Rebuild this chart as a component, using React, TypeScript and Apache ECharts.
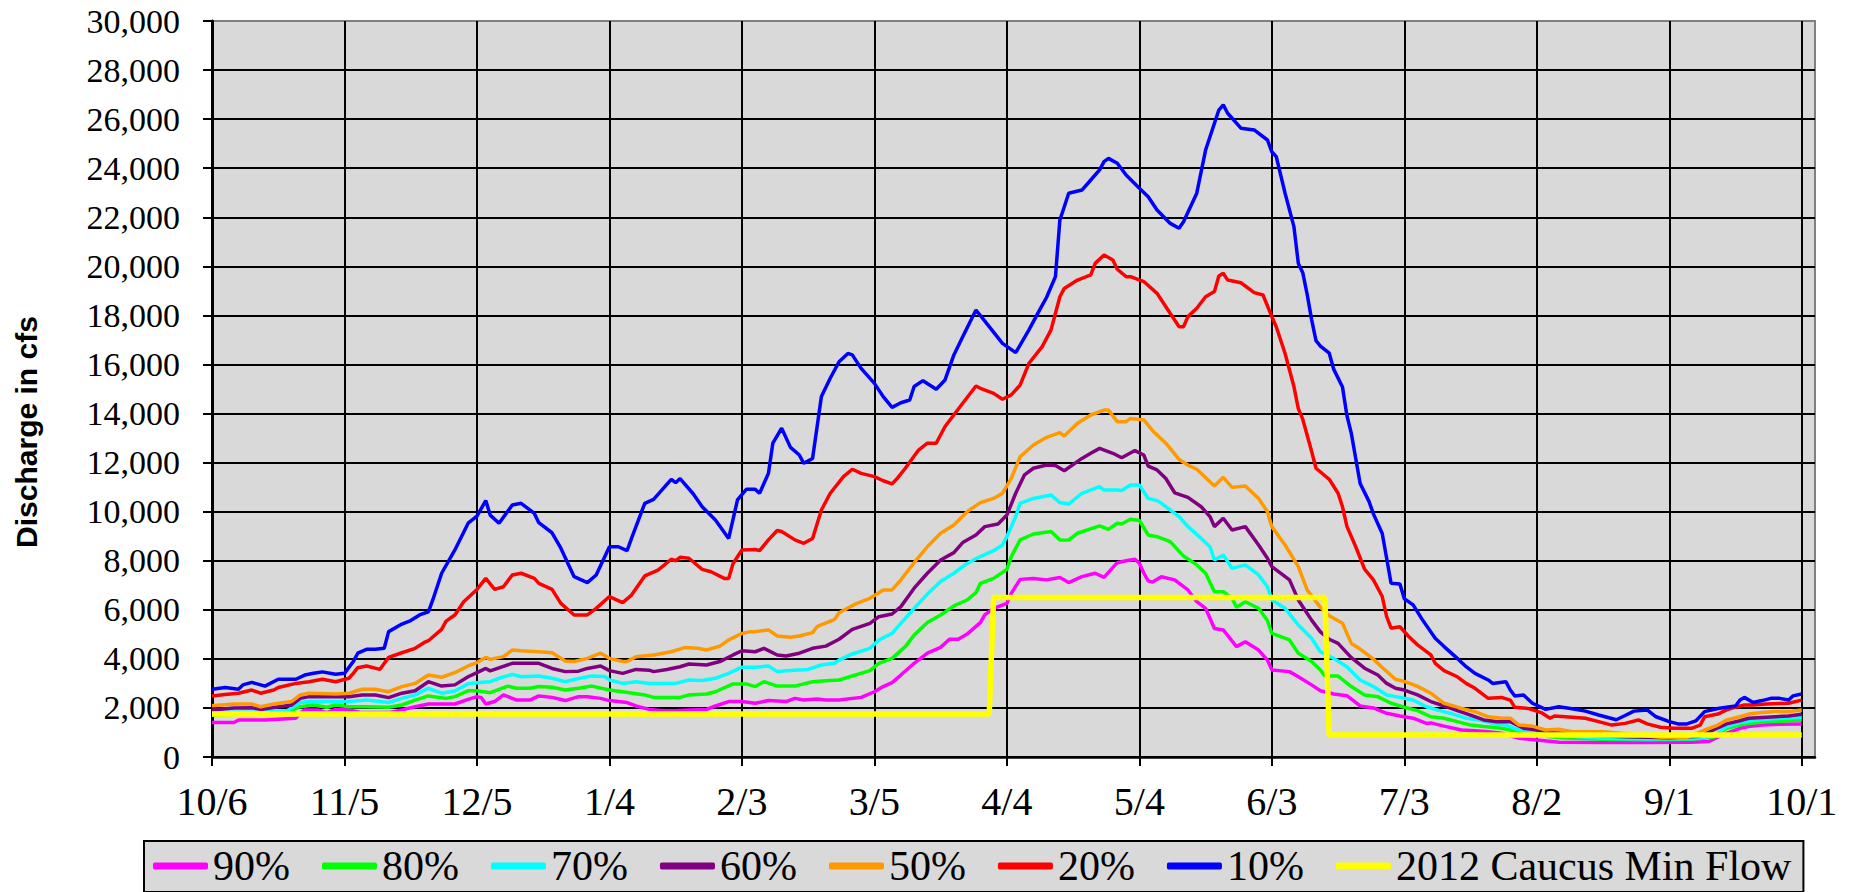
import React, { useEffect, useRef } from "react";
import * as echarts from "echarts";

// Day 0 = 10/6; tick labels every 30 days.
const xTickLabels = ["10/6", "11/5", "12/5", "1/4", "2/3", "3/5", "4/4", "5/4", "6/3", "7/3", "8/2", "9/1", "10/1"];
const tickDays = xTickLabels.map((_, i) => i * 30);
const lastDay = 363;

const seriesNames = ["90%", "80%", "70%", "60%", "50%", "20%", "10%", "2012 Caucus Min Flow"];
const seriesColors = ["#ff00ff", "#00ff00", "#00ffff", "#800080", "#ff9900", "#ff0000", "#0000ff", "#ffff00"];

// Exceedance discharge traces, [day, cfs]
const p90: [number, number][] = [
  [0, 1410], [5, 1410], [6, 1510], [12, 1510], [19, 1580], [20, 1800], [21, 1920], [24, 1920], [26, 1810], [28, 1940],
  [31, 1920], [34, 1810], [37, 1810], [40, 1810], [43, 1920], [46, 2050], [49, 2160], [53, 2160], [55, 2160], [58, 2350],
  [60, 2460], [61, 2420], [62, 2160], [64, 2260], [66, 2530], [68, 2390], [69, 2320], [72, 2320], [74, 2490], [77, 2430],
  [80, 2300], [83, 2460], [85, 2460], [88, 2390], [90, 2300], [94, 2220], [96, 2080], [99, 1940], [102, 1890], [105, 1890],
  [108, 1920], [112, 1940], [114, 2080], [117, 2260], [120, 2260], [123, 2190], [126, 2300], [130, 2260], [132, 2390], [134, 2320],
  [137, 2360], [139, 2320], [142, 2320], [147, 2430], [150, 2660], [152, 2870], [154, 3030], [156, 3340], [159, 3820], [162, 4230],
  [165, 4470], [167, 4800], [169, 4800], [171, 5010], [174, 5480], [175, 5790], [177, 6060], [180, 6260], [181, 6670], [183, 7240],
  [186, 7280], [189, 7220], [192, 7320], [194, 7110], [197, 7350], [200, 7490], [202, 7320], [205, 7920], [207, 8000], [209, 8060],
  [210, 7900], [211, 7500], [212, 7180], [213, 7130], [215, 7350], [218, 7220], [221, 6810], [223, 6330], [225, 6060], [227, 5240],
  [229, 5180], [232, 4500], [234, 4700], [237, 4360], [239, 3950], [240, 3550], [244, 3480], [246, 3270], [249, 2940], [251, 2700],
  [254, 2570], [257, 2500], [260, 2080], [263, 2000], [266, 1780], [269, 1670], [272, 1580], [275, 1370], [276, 1390], [279, 1260],
  [283, 1100], [286, 1070], [289, 1030], [292, 970], [296, 760], [300, 690], [305, 600], [315, 590], [325, 590], [335, 600],
  [339, 630], [342, 900], [346, 1170], [348, 1240], [351, 1300], [355, 1330], [360, 1350],
];

const p80: [number, number][] = [
  [0, 1700], [8, 1750], [15, 1800], [18, 1900], [20, 2050], [23, 2120], [26, 2030], [28, 2120], [31, 2050], [35, 2050],
  [40, 2030], [43, 2120], [46, 2320], [49, 2490], [53, 2390], [55, 2460], [58, 2700], [60, 2700], [63, 2620], [65, 2760],
  [67, 2890], [69, 2800], [72, 2800], [74, 2870], [77, 2840], [80, 2730], [83, 2800], [86, 2890], [90, 2730], [93, 2660],
  [98, 2530], [100, 2430], [106, 2430], [108, 2530], [112, 2570], [114, 2660], [118, 2980], [121, 2980], [123, 2870], [125, 3070],
  [128, 2890], [132, 2890], [134, 2980], [136, 3070], [139, 3110], [142, 3140], [145, 3300], [149, 3520], [151, 3820], [154, 4020],
  [157, 4500], [159, 4970], [162, 5480], [165, 5790], [168, 6160], [171, 6400], [173, 6700], [174, 7080], [177, 7280], [180, 7650],
  [181, 8170], [183, 8850], [186, 9090], [190, 9190], [192, 8850], [194, 8840], [196, 9120], [201, 9420], [203, 9280], [205, 9530],
  [206, 9500], [208, 9690], [210, 9640], [212, 9050], [214, 8980], [217, 8780], [220, 8190], [223, 7830], [225, 7490], [227, 6740],
  [229, 6740], [231, 6470], [232, 6100], [234, 6330], [237, 6060], [239, 5560], [240, 5040], [244, 4770], [246, 4230], [249, 3890],
  [251, 3550], [252, 3300], [255, 3300], [258, 2870], [261, 2530], [264, 2460], [267, 2190], [270, 2030], [273, 1890], [276, 1640],
  [279, 1580], [282, 1440], [285, 1300], [288, 1240], [292, 1170], [295, 1070], [298, 940], [305, 780], [315, 720], [325, 700],
  [335, 720], [340, 800], [343, 1170], [346, 1300], [348, 1370], [352, 1440], [356, 1470], [360, 1510],
];

const p70: [number, number][] = [
  [0, 1820], [9, 1820], [17, 1890], [20, 2220], [22, 2260], [28, 2260], [31, 2260], [35, 2320], [40, 2220], [43, 2390],
  [46, 2530], [49, 2800], [52, 2600], [55, 2690], [58, 2980], [60, 3030], [63, 3070], [65, 3210], [68, 3370], [70, 3270],
  [74, 3300], [77, 3210], [80, 3070], [83, 3200], [86, 3300], [89, 3280], [90, 3140], [93, 3000], [96, 3070], [99, 3000],
  [105, 3000], [108, 3140], [111, 3120], [114, 3210], [117, 3410], [120, 3660], [123, 3660], [126, 3710], [128, 3480], [130, 3520],
  [135, 3570], [138, 3750], [141, 3820], [142, 3950], [145, 4200], [149, 4430], [151, 4770], [154, 5040], [156, 5450], [159, 6060],
  [162, 6640], [165, 7150], [168, 7490], [171, 7890], [174, 8170], [177, 8410], [179, 8640], [180, 8980], [182, 9800], [183, 10340],
  [186, 10540], [190, 10680], [192, 10370], [194, 10310], [197, 10750], [201, 11020], [202, 10880], [205, 10880], [206, 10860], [208, 11090],
  [210, 11090], [212, 10540], [214, 10450], [215, 10340], [219, 9800], [221, 9390], [224, 8910], [226, 8570], [227, 8030], [229, 8230],
  [231, 7690], [234, 7830], [237, 7420], [239, 6940], [240, 6400], [243, 6060], [246, 5380], [249, 4840], [251, 4290], [254, 4020],
  [257, 3680], [260, 3140], [263, 2870], [266, 2530], [269, 2430], [272, 2320], [275, 2050], [278, 1890], [281, 1750], [284, 1580],
  [287, 1510], [290, 1370], [293, 1300], [296, 1100], [299, 990], [305, 880], [315, 760], [325, 730], [335, 740], [340, 850],
  [343, 1240], [346, 1400], [348, 1470], [352, 1540], [356, 1580], [360, 1620],
];

const p60: [number, number][] = [
  [0, 1920], [5, 2000], [9, 2010], [11, 1940], [14, 2020], [18, 2120], [20, 2390], [22, 2460], [28, 2460], [31, 2460],
  [34, 2530], [37, 2530], [40, 2420], [43, 2600], [46, 2700], [49, 3070], [52, 2890], [55, 2940], [58, 3270], [60, 3440],
  [62, 3610], [63, 3510], [68, 3820], [70, 3820], [74, 3820], [77, 3610], [80, 3480], [83, 3500], [85, 3610], [88, 3710],
  [90, 3520], [93, 3410], [96, 3570], [99, 3540], [100, 3480], [103, 3570], [106, 3680], [108, 3790], [112, 3750], [115, 3890],
  [118, 4160], [120, 4330], [123, 4290], [125, 4430], [128, 4160], [130, 4120], [133, 4230], [136, 4430], [139, 4520], [142, 4800],
  [145, 5200], [149, 5450], [151, 5720], [154, 5830], [156, 6130], [159, 6880], [162, 7490], [165, 8030], [168, 8330], [170, 8740],
  [173, 9050], [175, 9390], [178, 9500], [180, 9860], [182, 10750], [184, 11500], [186, 11770], [189, 11900], [191, 11880], [193, 11670],
  [197, 12170], [199, 12380], [201, 12580], [204, 12380], [206, 12200], [209, 12490], [211, 12310], [212, 11860], [214, 11700], [216, 11350],
  [218, 10770], [221, 10580], [224, 10200], [226, 9800], [227, 9390], [229, 9730], [231, 9250], [234, 9390], [237, 8640], [239, 8100],
  [240, 7760], [244, 7220], [246, 6400], [249, 5580], [251, 5100], [253, 4800], [255, 4630], [258, 4050], [261, 3620], [264, 3340],
  [266, 3000], [268, 2800], [270, 2730], [273, 2530], [276, 2260], [279, 2080], [282, 1890], [285, 1710], [288, 1510], [291, 1440],
  [294, 1440], [297, 1170], [300, 1100], [304, 990], [310, 900], [320, 830], [330, 780], [337, 850], [340, 1100], [343, 1350],
  [346, 1480], [348, 1580], [352, 1620], [357, 1670], [360, 1740],
];

const p50: [number, number][] = [
  [0, 2090], [5, 2160], [9, 2160], [11, 2050], [14, 2160], [18, 2260], [20, 2530], [22, 2600], [28, 2570], [31, 2600],
  [34, 2760], [37, 2760], [40, 2660], [43, 2870], [46, 3000], [49, 3340], [52, 3250], [55, 3440], [58, 3710], [60, 3850],
  [62, 4060], [63, 3980], [66, 4090], [68, 4360], [70, 4330], [74, 4290], [77, 4250], [80, 3910], [82, 3890], [85, 4020],
  [88, 4230], [90, 4020], [93, 3890], [94, 3890], [96, 4090], [100, 4160], [104, 4290], [107, 4460], [110, 4430], [112, 4360],
  [115, 4520], [117, 4770], [120, 5040], [122, 5110], [123, 5110], [126, 5180], [128, 4930], [131, 4880], [133, 4930], [136, 5070],
  [137, 5310], [141, 5610], [142, 5880], [146, 6260], [149, 6470], [152, 6810], [154, 6810], [156, 7220], [159, 7920], [162, 8570],
  [165, 9120], [168, 9460], [171, 10000], [174, 10370], [177, 10540], [179, 10750], [181, 11360], [183, 12240], [186, 12720], [189, 13030],
  [192, 13220], [193, 13080], [196, 13600], [199, 13940], [202, 14140], [203, 14140], [205, 13670], [207, 13670], [208, 13800], [211, 13740],
  [213, 13300], [216, 12790], [219, 12130], [221, 11900], [223, 11730], [227, 11050], [229, 11400], [231, 10990], [234, 11050], [237, 10540],
  [239, 10000], [240, 9390], [243, 8640], [246, 7760], [248, 6810], [251, 6100], [253, 5760], [256, 5450], [258, 4630], [260, 4400],
  [263, 3990], [265, 3650], [268, 3170], [270, 3080], [273, 2880], [276, 2600], [279, 2190], [283, 1980], [286, 1850], [289, 1640],
  [292, 1580], [294, 1580], [296, 1300], [299, 1260], [302, 1100], [305, 1130], [308, 1030], [315, 1030], [321, 940], [328, 800],
  [334, 800], [338, 1100], [341, 1300], [343, 1510], [346, 1640], [348, 1750], [351, 1810], [354, 1850], [357, 1850], [360, 1920],
];

const p20: [number, number][] = [
  [0, 2490], [3, 2550], [6, 2600], [9, 2730], [11, 2600], [14, 2730], [15, 2830], [19, 3000], [22, 3070], [25, 3170],
  [28, 3070], [31, 3210], [32, 3410], [33, 3640], [35, 3710], [38, 3570], [40, 4060], [43, 4250], [46, 4430], [48, 4660],
  [49, 4740], [52, 5200], [53, 5540], [55, 5790], [57, 6330], [60, 6830], [62, 7280], [64, 6830], [66, 6940], [68, 7420],
  [70, 7490], [73, 7280], [74, 7080], [77, 6830], [79, 6260], [82, 5790], [85, 5790], [87, 6060], [90, 6540], [93, 6290],
  [95, 6600], [98, 7380], [101, 7620], [104, 8060], [105, 8000], [106, 8140], [108, 8100], [111, 7650], [113, 7550], [116, 7280],
  [117, 7280], [118, 7890], [120, 8440], [123, 8460], [124, 8410], [126, 8850], [128, 9230], [129, 9190], [132, 8850], [134, 8710],
  [136, 8910], [138, 10070], [140, 10750], [143, 11430], [145, 11730], [147, 11560], [150, 11430], [152, 11260], [154, 11130], [155, 11320],
  [157, 11770], [160, 12510], [162, 12790], [164, 12790], [166, 13470], [170, 14420], [173, 15120], [174, 15030], [177, 14820], [179, 14580],
  [181, 14760], [183, 15160], [185, 16050], [188, 16730], [190, 17410], [192, 18760], [193, 19100], [196, 19440], [199, 19650], [200, 20120],
  [202, 20460], [204, 20260], [205, 19880], [207, 19580], [208, 19580], [211, 19380], [214, 18900], [217, 18080], [219, 17540], [220, 17540],
  [221, 17950], [223, 18290], [225, 18760], [227, 18970], [228, 19610], [229, 19720], [230, 19440], [233, 19330], [236, 18930], [238, 18830],
  [240, 17950], [241, 17540], [243, 16450], [245, 15100], [246, 14200], [247, 13770], [249, 12460], [250, 11770], [253, 11320], [255, 10750],
  [256, 10200], [257, 9400], [259, 8570], [261, 7660], [263, 7220], [265, 6540], [266, 5720], [267, 5250], [269, 5310], [271, 4910],
  [273, 4570], [276, 4160], [277, 3820], [279, 3520], [282, 3270], [284, 3000], [286, 2800], [289, 2390], [292, 2430], [294, 2320],
  [295, 2030], [298, 1980], [301, 1810], [303, 1580], [304, 1670], [308, 1620], [311, 1580], [314, 1440], [317, 1300], [320, 1370],
  [323, 1510], [325, 1350], [328, 1210], [331, 1170], [335, 1170], [337, 1300], [338, 1640], [341, 1750], [343, 1920], [345, 2030],
  [347, 2120], [349, 2120], [352, 2160], [357, 2190], [360, 2320],
];

const p10: [number, number][] = [
  [0, 2760], [3, 2830], [6, 2760], [7, 2940], [9, 3040], [12, 2890], [15, 3170], [19, 3170], [21, 3340], [23, 3410],
  [25, 3470], [28, 3370], [30, 3410], [32, 3890], [33, 4230], [35, 4390], [37, 4390], [39, 4430], [40, 5110], [43, 5420],
  [45, 5560], [47, 5790], [49, 5920], [50, 6400], [52, 7490], [55, 8440], [58, 9530], [60, 9820], [62, 10450], [63, 9860],
  [65, 9530], [68, 10270], [70, 10340], [73, 9930], [74, 9550], [77, 9140], [79, 8510], [82, 7350], [85, 7110], [87, 7420],
  [90, 8570], [92, 8570], [94, 8410], [95, 8910], [98, 10340], [100, 10500], [104, 11320], [105, 11180], [106, 11350], [109, 10720],
  [111, 10200], [114, 9660], [117, 8910], [119, 10480], [121, 10910], [123, 10910], [124, 10750], [126, 11560], [127, 12790], [129, 13400],
  [131, 12620], [133, 12310], [134, 11970], [136, 12170], [138, 14690], [140, 15440], [142, 16110], [144, 16450], [145, 16390], [147, 15840],
  [150, 15230], [152, 14690], [154, 14250], [156, 14440], [158, 14550], [159, 15100], [161, 15340], [164, 14990], [166, 15370], [168, 16390],
  [170, 17130], [173, 18220], [176, 17540], [179, 16860], [182, 16480], [185, 17410], [187, 18080], [189, 18740], [191, 19580], [192, 21890],
  [193, 22430], [194, 22980], [197, 23110], [199, 23520], [201, 23930], [202, 24270], [203, 24400], [205, 24200], [207, 23720], [210, 23180],
  [212, 22840], [214, 22300], [217, 21750], [219, 21550], [220, 21820], [223, 22980], [225, 24740], [228, 26370], [229, 26580], [230, 26240],
  [233, 25630], [236, 25560], [239, 25150], [240, 24670], [241, 24470], [243, 22980], [245, 21620], [246, 20120], [247, 19740], [248, 18860],
  [249, 17840], [250, 16970], [251, 16750], [253, 16460], [254, 15810], [256, 15080], [257, 13920], [258, 13190], [259, 12170], [260, 11150],
  [262, 10420], [263, 9910], [265, 9110], [266, 8100], [267, 7080], [269, 7050], [270, 6450], [272, 6200], [274, 5620], [277, 4840],
  [279, 4500], [282, 4020], [284, 3680], [286, 3410], [289, 3140], [290, 3000], [293, 3070], [294, 2730], [295, 2490], [297, 2530],
  [299, 2190], [302, 1940], [305, 2050], [308, 1970], [311, 1870], [314, 1710], [318, 1520], [320, 1690], [322, 1870], [325, 1920],
  [327, 1640], [330, 1440], [332, 1350], [334, 1350], [336, 1470], [338, 1850], [341, 1980], [343, 2030], [345, 2080], [346, 2320],
  [347, 2430], [349, 2220], [351, 2300], [353, 2390], [355, 2390], [357, 2320], [358, 2490], [360, 2570],
];

// Stepped minimum flow schedule
const minFlow: [number, number][] = [
  [0, 1750], [176, 1750], [177, 6500], [252, 6500], [253, 900], [360, 900],
];

const seriesData = [p90, p80, p70, p60, p50, p20, p10, minFlow];

const serif = "'Liberation Serif', 'Times New Roman', serif";
const sans = "'Liberation Sans', Arial, sans-serif";

export default function App() {
  const ref = useRef<HTMLDivElement>(null);

  useEffect(() => {
    if (!ref.current) return;
    const chart = echarts.init(ref.current, undefined, { renderer: "svg" });

    // Top gridline doubles as the plot's grey frame
    const yLineColors = Array.from({ length: 16 }, (_, i) => (i === 15 ? "#808080" : "#000000"));

    const option = {
      animation: false,
      backgroundColor: "#ffffff",
      grid: {
        left: 212,
        right: 37,
        top: 21,
        bottom: 135,
        show: true,
        backgroundColor: "#d9d9d9",
        borderColor: "#808080",
        borderWidth: 2,
      },
      xAxis: {
        type: "value",
        min: 0,
        max: lastDay,
        interval: 30,
        axisLine: { show: true, onZero: false, lineStyle: { color: "#000000", width: 2.5 } },
        axisTick: {
          show: true,
          inside: false,
          length: 9,
          customValues: tickDays,
          lineStyle: { color: "#000000", width: 2 },
        },
        axisLabel: {
          customValues: tickDays,
          formatter: (v: number) => xTickLabels[Math.round(v / 30)] ?? "",
          fontFamily: serif,
          fontSize: 40,
          color: "#000000",
          margin: 24,
        },
        splitLine: { show: true, lineStyle: { color: "#000000", width: 2 } },
      },
      yAxis: {
        type: "value",
        min: 0,
        max: 30000,
        interval: 2000,
        axisLine: { show: true, lineStyle: { color: "#000000", width: 3 } },
        axisTick: { show: true, inside: false, length: 9, lineStyle: { color: "#000000", width: 2 } },
        axisLabel: {
          formatter: (v: number) => v.toLocaleString("en-US"),
          fontFamily: serif,
          fontSize: 34,
          color: "#000000",
          margin: 32,
        },
        splitLine: { show: true, lineStyle: { color: yLineColors, width: 2 } },
      },
      legend: {
        show: true,
        data: seriesNames,
        left: 144,
        top: 841,
        orient: "horizontal",
        icon: "roundRect",
        itemWidth: 55,
        itemHeight: 7,
        itemGap: 32,
        padding: [4, 12, 5, 9],
        backgroundColor: "#d9d9d9",
        borderColor: "#000000",
        borderWidth: 2,
        selectedMode: false,
        textStyle: { fontFamily: serif, fontSize: 42, color: "#000000" },
      },
      graphic: [
        {
          type: "text",
          x: 26,
          y: 432,
          rotation: Math.PI / 2,
          style: {
            text: "Discharge in cfs",
            fontFamily: sans,
            fontWeight: "bold",
            fontSize: 30,
            fill: "#000000",
            align: "center",
            verticalAlign: "middle",
          },
        },
      ],
      series: seriesNames.map((name, i) => ({
        name,
        type: "line",
        data: seriesData[i],
        symbol: "none",
        showSymbol: false,
        clip: true,
        color: seriesColors[i],
        lineStyle: { color: seriesColors[i], width: i === 7 ? 5.5 : 3.5 },
        z: 2 + i,
      })),
    };

    chart.setOption(option as any);
    return () => chart.dispose();
  }, []);

  return (
    <div
      ref={ref}
      style={{ position: "fixed", left: 0, top: 0, width: "1852px", height: "892px" }}
    />
  );
}
